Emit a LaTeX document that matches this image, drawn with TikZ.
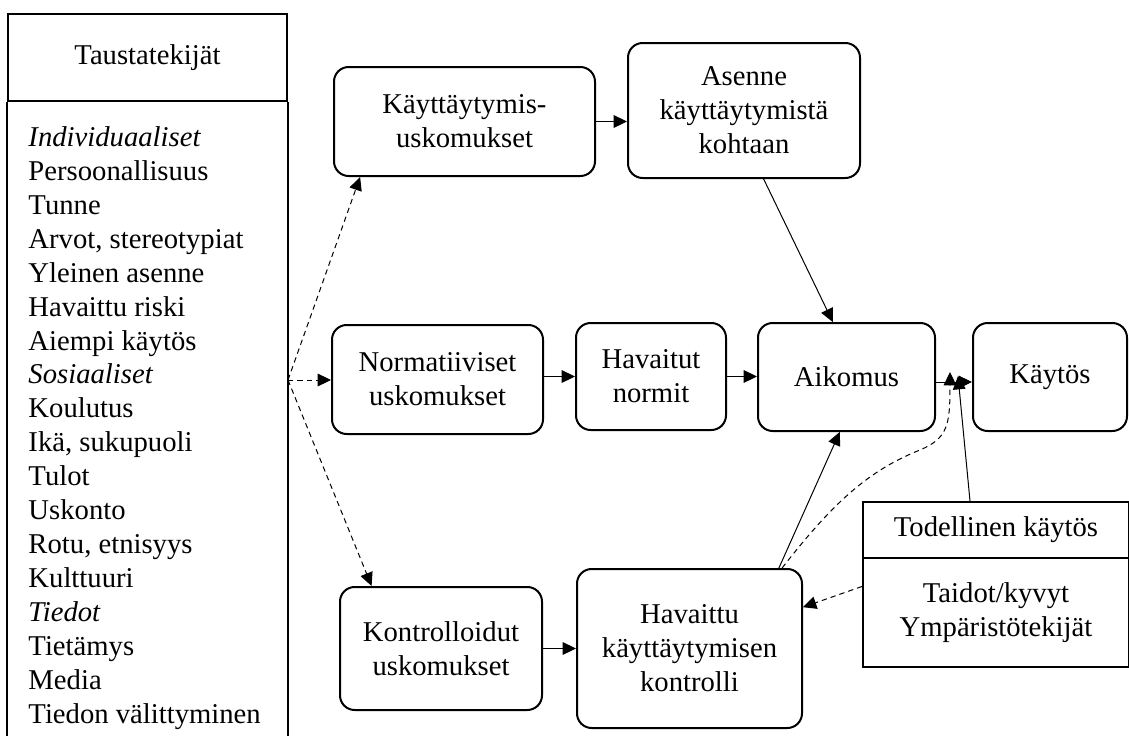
\documentclass[tikz,border=0pt]{standalone}
\usepackage{fontspec}
\setmainfont{Liberation Serif}
\usetikzlibrary{arrows.meta}

\tikzset{every picture/.style={line width=0.75pt}}
\tikzset{
  laatikko/.style={draw, line width=1.5pt, rounded corners=11pt, align=center, inner sep=0pt},
  kehys/.style={draw, line width=1.5pt, align=center, inner sep=0pt},
  nuoli/.style={-{Triangle[length=10pt,width=9.5pt]}, line width=0.75pt},
  katko/.style={nuoli, dash pattern=on 4pt off 3pt}
}

\begin{document}
\begin{tikzpicture}[x=0.75pt,y=0.75pt,yscale=-1,xscale=1,
  every node/.style={font=\fontsize{21.5}{25.45}\selectfont}]
\useasboundingbox (0,0) rectangle (1129,736);

%Shape: Taustatekijät, left frame
\node (taust) [kehys, minimum width=209.25pt, minimum height=65.25pt] at (147.5,57.5) {Taustatekijät};
\draw [line width=1.5pt] (taust.south west) -- (taust.south west |- 0,736);
\draw [line width=1.5pt] (taust.south east) -- (taust.south east |- 0,736);
% Text Node
\node (tekijat) [anchor=north west, align=left, inner sep=0pt] at (28,126) {\textit{Individuaaliset}\\Persoonallisuus\\Tunne\\Arvot, stereotypiat\\Yleinen asenne\\Havaittu riski\\Aiempi käytös\\\textit{Sosiaaliset}\\Koulutus\\Ikä, sukupuoli\\Tulot\\Uskonto\\Rotu, etnisyys\\Kulttuuri\\\textit{Tiedot}\\Tietämys\\Media\\Tiedon välittyminen};
\coordinate (lahto) at (taust.east |- 0,380);

%Shape: Rounded boxes
\node (kuusk) [laatikko, minimum width=195.75pt, minimum height=81.75pt] at (464.5,121.5) {Käyttäytymis-\\uskomukset};
\node (asenne) [laatikko, minimum width=174pt, minimum height=101.25pt] at (744,110.5) {Asenne\\käyttäytymistä\\kohtaan};
\node (normusk) [laatikko, minimum width=158.25pt, minimum height=81.75pt] at (437.5,379.5) {Normatiiviset\\uskomukset};
\node (normit) [laatikko, minimum width=112.5pt, minimum height=80.25pt] at (651,376.5) {Havaitut\\normit};
\node (aikomus) [laatikko, minimum width=132.75pt, minimum height=81pt] at (846.5,377) {Aikomus};
\node (kaytos) [laatikko, minimum width=115.5pt, minimum height=81pt] at (1050,377) {Käytös};
\node (kontusk) [laatikko, minimum width=151.5pt, minimum height=92.25pt] at (441,648.5) {Kontrolloidut\\uskomukset};
\node (kontrolli) [laatikko, minimum width=168.75pt, minimum height=119.25pt] at (689.5,648.5) {Havaittu\\käyttäytymisen\\kontrolli};

%Shape: Todellinen käytös
\node (todellinen) [kehys, minimum width=199.5pt, minimum height=42pt] at (996,530) {Todellinen käytös};
\node (taidot) [kehys, minimum width=199.5pt, minimum height=81.75pt] at (996,612.5) {Taidot/kyvyt\\Ympäristötekijät};

%Straight Lines
\draw [nuoli] (kuusk.east) -- (kuusk.east -| asenne.west);
\draw [nuoli] (asenne.-74) -- (aikomus.104);
\draw [nuoli] (normit.west -| normusk.east) -- (normit.west);
\draw [nuoli] (normit.east) -- (normit.east -| aikomus.west);
\draw [nuoli] ([yshift=3.75pt]aikomus.east) -- ([yshift=3.75pt]aikomus.east -| kaytos.west);
\draw [nuoli] (kontusk.east) -- (kontusk.east -| kontrolli.west);
\draw [nuoli] (kontrolli.42) -- (aikomus.-97);
\coordinate (liitos1) at (950,372);
\coordinate (liitos2) at (958,376);
\draw [nuoli] ([xshift=-19.5pt]todellinen.north) -- (liitos2);

%Dashed Lines
\draw [katko] (lahto) -- (kuusk.208);
\draw [katko] (lahto) -- (lahto -| normusk.west);
\draw [katko] (lahto) -- (kontusk.138);
\draw [katko] (taidot.169) -- (kontrolli.20);
\draw [katko] (kontrolli.41) .. controls (835,500) and (870,470) .. (920,450) .. controls (948,438) and (950,425) .. (liitos1);

\end{tikzpicture}
\end{document}
